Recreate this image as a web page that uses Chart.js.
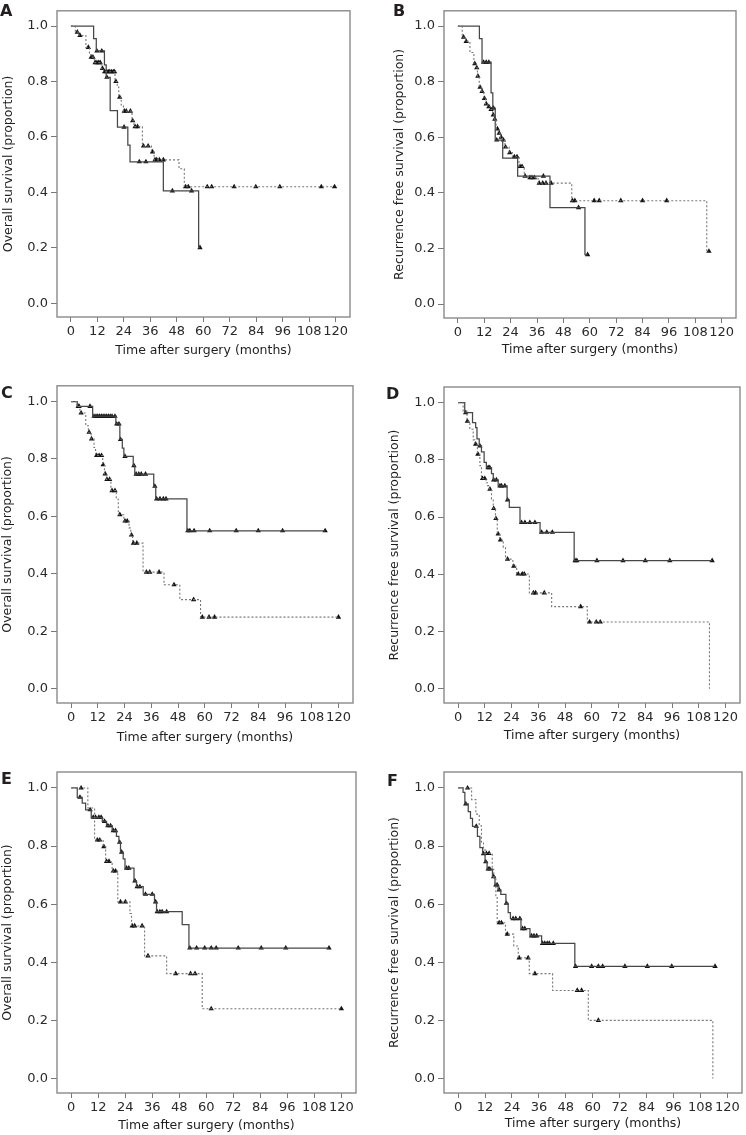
<!DOCTYPE html>
<html lang="en">
<head>
<meta charset="UTF-8" />
<title>Survival after surgery</title>
<script src="https://cdn.jsdelivr.net/npm/chart.js"></script>
<style>
  body { margin:0; background:#fff; }
  #page { position:relative; width:746px; height:1135px; overflow:hidden; }
  .panel { position:absolute; }
  .letter { position:absolute; font:bold 16px "DejaVu Sans", Verdana, sans-serif; color:#231f20; line-height:1; }
</style>
</head>
<body>
<div id="page">
  <div class="panel" style="left:0;top:0;width:373px;height:375px"><canvas id="cA"></canvas></div>
  <div class="panel" style="left:373px;top:0;width:373px;height:375px"><canvas id="cB"></canvas></div>
  <div class="panel" style="left:0;top:375px;width:373px;height:380px"><canvas id="cC"></canvas></div>
  <div class="panel" style="left:373px;top:375px;width:373px;height:380px"><canvas id="cD"></canvas></div>
  <div class="panel" style="left:0;top:755px;width:373px;height:380px"><canvas id="cE"></canvas></div>
  <div class="panel" style="left:373px;top:755px;width:373px;height:380px"><canvas id="cF"></canvas></div>
  <div class="letter" style="left:0;top:3px">A</div>
  <div class="letter" style="left:393px;top:3px">B</div>
  <div class="letter" style="left:1px;top:385px">C</div>
  <div class="letter" style="left:386px;top:386px">D</div>
  <div class="letter" style="left:1px;top:771px">E</div>
  <div class="letter" style="left:387px;top:773px">F</div>
</div>

<script>
  const xTicks = [0, 12, 24, 36, 48, 60, 72, 84, 96, 108, 120];
  const yTicks = [0, 0.2, 0.4, 0.6, 0.8, 1.0];

  // A - overall survival
  const aSolidTime = [10.3, 11.5, 15.2, 16.0, 17.8, 21.1, 25.8, 26.8, 41.9, 57.9];
  const aSolidSurv = [0.955, 0.91, 0.86, 0.815, 0.695, 0.635, 0.57, 0.51, 0.405, 0.20];
  const aSolidCens = [11.8, 14.0, 16.3, 24.1, 31.0, 34.0, 46.0, 54.7, 58.5];
  const aDotTime = [2.0, 3.6, 6.8, 8.4, 9.0, 10.6, 13.8, 14.8, 20.0, 21.0, 21.7, 22.8, 23.8, 27.7, 28.6, 32.4, 36.5, 37.7, 49.0, 51.4];
  const aDotSurv = [0.978, 0.966, 0.923, 0.90, 0.888, 0.868, 0.847, 0.835, 0.80, 0.78, 0.743, 0.715, 0.693, 0.658, 0.637, 0.567, 0.546, 0.517, 0.485, 0.42];
  const aDotCens = [2.9, 4.1, 7.9, 9.2, 10.0, 11.0, 11.8, 12.6, 13.3, 14.3, 15.3, 16.1, 16.9, 17.6, 18.4, 19.2, 19.8, 20.4, 22.1, 24.2, 25.1, 27.0, 28.0, 29.1, 30.2, 32.9, 35.0, 37.0, 38.1, 38.9, 40.1, 41.9, 52.0, 53.2, 61.8, 63.8, 74.0, 83.8, 94.7, 113.5, 119.5];

  // B - recurrence free survival
  const bSolidTime = [9.8, 11.0, 15.1, 15.9, 17.0, 20.4, 27.2, 41.9, 57.8];
  const bSolidSurv = [0.955, 0.87, 0.76, 0.705, 0.59, 0.525, 0.46, 0.347, 0.178];
  const bSolidCens = [11.7, 12.9, 14.1, 16.2, 17.7, 38.9, 54.9, 59.0];
  const bDotTime = [2.0, 3.5, 5.5, 7.3, 8.4, 8.9, 9.7, 10.8, 11.8, 12.6, 13.6, 14.8, 15.8, 16.5, 17.4, 18.4, 19.4, 20.3, 21.4, 23.3, 24.8, 27.8, 30.2, 32.0, 36.5, 51.8, 113.2];
  const bDotSurv = [0.96, 0.945, 0.905, 0.865, 0.85, 0.82, 0.78, 0.765, 0.74, 0.72, 0.71, 0.70, 0.68, 0.665, 0.63, 0.615, 0.60, 0.59, 0.565, 0.545, 0.53, 0.495, 0.46, 0.455, 0.435, 0.372, 0.19];
  const bDotCens = [2.6, 3.8, 7.7, 8.6, 9.1, 10.1, 11.0, 12.1, 12.9, 14.1, 15.1, 16.1, 16.8, 18.0, 18.8, 19.7, 20.7, 21.7, 23.6, 25.7, 26.9, 28.3, 29.2, 30.6, 32.8, 33.7, 34.8, 37.0, 38.6, 40.1, 42.4, 52.1, 53.2, 62.0, 64.3, 74.1, 84.0, 95.0, 114.2];

  // C - overall survival
  const cSolidTime = [2.8, 9.7, 20.1, 21.9, 23.0, 23.7, 27.9, 28.6, 37.1, 38.0, 52.0];
  const cSolidSurv = [0.983, 0.949, 0.922, 0.868, 0.838, 0.809, 0.777, 0.747, 0.705, 0.661, 0.55];
  const cSolidCens = [3.6, 8.5, 10.3, 11.2, 12.0, 12.8, 13.6, 14.4, 15.2, 16.0, 16.8, 17.6, 18.4, 19.7, 20.5, 21.5, 22.2, 24.2, 28.2, 29.2, 30.4, 31.5, 33.4, 37.6, 38.4, 39.9, 41.4, 42.6, 52.4, 53.3, 55.2, 62.2, 74.1, 84.0, 94.9, 114.0];
  const cDotTime = [2.6, 4.0, 6.6, 7.8, 9.0, 10.3, 11.0, 14.2, 15.0, 15.8, 17.9, 20.3, 21.2, 23.7, 26.0, 26.8, 27.6, 32.3, 41.7, 48.8, 58.1];
  const cDotSurv = [0.983, 0.96, 0.916, 0.893, 0.87, 0.84, 0.812, 0.78, 0.748, 0.729, 0.69, 0.66, 0.606, 0.584, 0.56, 0.535, 0.507, 0.406, 0.362, 0.31, 0.249];
  const cDotCens = [3.2, 4.5, 8.1, 9.2, 11.5, 12.6, 13.7, 14.4, 15.3, 16.1, 17.3, 18.4, 19.7, 21.9, 24.2, 25.2, 27.1, 28.0, 29.5, 33.8, 35.3, 39.5, 46.2, 55.0, 58.9, 61.9, 64.4, 120.0];

  // D - recurrence free survival
  const dSolidTime = [3.0, 6.5, 7.9, 8.5, 9.5, 10.5, 11.7, 12.7, 15.0, 15.8, 18.0, 22.0, 23.0, 27.8, 36.8, 52.1];
  const dSolidSurv = [0.965, 0.93, 0.913, 0.874, 0.849, 0.828, 0.791, 0.773, 0.752, 0.73, 0.709, 0.66, 0.634, 0.581, 0.547, 0.448];
  const dSolidCens = [3.4, 9.8, 13.5, 14.2, 16.0, 17.2, 18.8, 19.5, 21.0, 22.2, 28.5, 30.0, 32.2, 34.5, 37.5, 39.8, 42.3, 52.5, 53.3, 62.3, 74.0, 84.0, 95.0, 114.0];
  const dDotTime = [2.3, 4.0, 5.3, 6.8, 7.5, 8.7, 9.8, 10.5, 12.6, 13.2, 14.0, 15.0, 15.8, 16.8, 17.6, 18.7, 20.3, 21.3, 24.6, 26.3, 32.0, 42.0, 58.0, 112.8];
  const dDotSurv = [0.971, 0.935, 0.907, 0.87, 0.855, 0.82, 0.78, 0.735, 0.72, 0.71, 0.698, 0.663, 0.63, 0.595, 0.541, 0.52, 0.494, 0.453, 0.428, 0.401, 0.335, 0.287, 0.233, 0.0];
  const dDotCens = [4.2, 7.9, 8.9, 11.0, 12.0, 14.3, 16.0, 17.0, 18.0, 19.0, 22.2, 25.0, 27.0, 28.8, 29.7, 33.8, 34.8, 38.7, 55.0, 59.0, 62.0, 63.8];

  // E - overall survival
  const eSolidTime = [2.7, 4.9, 6.4, 8.9, 13.8, 15.7, 18.2, 20.1, 21.2, 21.9, 23.1, 23.9, 27.9, 29.0, 32.0, 37.0, 37.9, 49.3, 52.3];
  const eSolidSurv = [0.968, 0.948, 0.925, 0.899, 0.885, 0.87, 0.853, 0.833, 0.813, 0.779, 0.756, 0.724, 0.68, 0.66, 0.634, 0.608, 0.574, 0.53, 0.449];
  const eSolidCens = [3.9, 8.4, 9.8, 10.8, 12.3, 13.3, 14.8, 16.3, 17.5, 18.7, 19.7, 21.5, 22.4, 24.6, 25.6, 28.3, 29.3, 30.5, 33.0, 36.0, 37.5, 38.2, 39.4, 40.4, 42.4, 52.7, 55.7, 59.3, 62.2, 64.4, 74.2, 84.4, 95.3, 114.5];
  const eDotTime = [7.4, 10.4, 14.2, 15.3, 18.2, 20.7, 26.1, 26.8, 32.6, 42.4, 58.2];
  const eDotSurv = [0.931, 0.821, 0.798, 0.747, 0.714, 0.608, 0.568, 0.525, 0.422, 0.361, 0.24];
  const eDotCens = [4.4, 11.6, 12.7, 14.5, 15.7, 16.8, 18.7, 19.7, 21.9, 24.1, 27.1, 28.2, 31.5, 34.1, 46.4, 53.0, 55.0, 62.2, 120.0];

  // F - recurrence free survival
  const fSolidTime = [2.2, 3.0, 4.5, 5.5, 6.4, 8.6, 9.7, 10.9, 12.0, 12.9, 15.3, 16.4, 17.8, 19.0, 21.3, 22.3, 23.3, 28.0, 32.0, 37.2, 52.0];
  const fSolidSurv = [0.985, 0.945, 0.919, 0.895, 0.868, 0.833, 0.795, 0.774, 0.746, 0.721, 0.695, 0.666, 0.649, 0.634, 0.603, 0.571, 0.55, 0.516, 0.491, 0.465, 0.386];
  const fSolidCens = [3.4, 8.1, 11.3, 12.3, 13.4, 14.1, 15.8, 16.8, 17.4, 18.3, 21.5, 24.5, 25.7, 27.5, 28.7, 29.7, 32.7, 33.8, 35.0, 37.6, 38.6, 39.7, 40.6, 42.4, 52.3, 59.5, 62.5, 64.4, 74.3, 84.3, 95.2, 114.5];
  const fDotTime = [6.0, 7.9, 9.4, 10.4, 11.3, 12.0, 15.2, 15.9, 16.8, 17.4, 21.1, 24.8, 26.8, 31.7, 42.1, 58.0, 113.5];
  const fDotSurv = [0.96, 0.91, 0.87, 0.813, 0.79, 0.775, 0.72, 0.69, 0.626, 0.536, 0.497, 0.456, 0.415, 0.361, 0.303, 0.20, 0.0];
  const fDotCens = [4.2, 12.6, 13.8, 18.3, 19.3, 21.9, 27.2, 31.2, 34.2, 53.1, 55.0, 62.5];

  const OS = 'Overall survival (proportion)';
  const RFS = 'Recurrence free survival (proportion)';

  // layout of each panel (canvas pixels)
  const panels = [
    { id: 'cA', yTitle: OS,  top: 4,  right: 23, yw: 57, xh: 58, ytPad: 1.5,  xtPad: 17,
      solid: [aSolidTime, aSolidSurv, aSolidCens], dot: [aDotTime, aDotSurv, aDotCens] },
    { id: 'cB', yTitle: RFS, top: 4,  right: 10, yw: 71, xh: 57, ytPad: 19,   xtPad: 18,
      solid: [bSolidTime, bSolidSurv, bSolidCens], dot: [bDotTime, bDotSurv, bDotCens] },
    { id: 'cC', yTitle: OS,  top: 10, right: 20, yw: 57, xh: 52, ytPad: 0.5,  xtPad: 10,
      solid: [cSolidTime, cSolidSurv, cSolidCens], dot: [cDotTime, cDotSurv, cDotCens] },
    { id: 'cD', yTitle: RFS, top: 12, right: 6,  yw: 71, xh: 52, ytPad: 14.5, xtPad: 12,
      solid: [dSolidTime, dSolidSurv, dSolidCens], dot: [dDotTime, dDotSurv, dDotCens] },
    { id: 'cE', yTitle: OS,  top: 17, right: 17, yw: 57, xh: 42, ytPad: 0.5,  xtPad: 2,
      solid: [eSolidTime, eSolidSurv, eSolidCens], dot: [eDotTime, eDotSurv, eDotCens] },
    { id: 'cF', yTitle: RFS, top: 17, right: 4,  yw: 71, xh: 42, ytPad: 14.5, xtPad: 4,
      solid: [fSolidTime, fSolidSurv, fSolidCens], dot: [fDotTime, fDotSurv, fDotCens] }
  ];

  Chart.defaults.font.family = '"DejaVu Sans", Verdana, sans-serif';
  Chart.defaults.color = '#333';
  Chart.defaults.animation = false;

  // survival value of a curve at time t (step function)
  function survAt(times, surv, t) {
    let s = 1;
    for (let i = 0; i < times.length; i++) {
      if (times[i] <= t) s = surv[i];
    }
    return s;
  }

  function curveSets(curve, dotted) {
    const [times, surv, cens] = curve;
    const pts = [{ x: 0, y: 1 }];
    times.forEach((t, i) => pts.push({ x: t, y: surv[i] }));
    const end = Math.max(times[times.length - 1], cens.length ? cens[cens.length - 1] : 0);
    pts.push({ x: end, y: survAt(times, surv, end) });
    return [
      {
        type: 'line', data: pts, stepped: true, fill: false,
        borderColor: dotted ? '#777' : '#474747', borderWidth: dotted ? 1.1 : 1.25,
        borderDash: dotted ? [2, 2] : [], pointRadius: 0
      },
      {
        type: 'scatter', data: cens.map(t => ({ x: t, y: survAt(times, surv, t) })),
        pointStyle: 'triangle', pointRadius: 3.1, pointBackgroundColor: '#111',
        pointBorderWidth: 0, showLine: false
      }
    ];
  }

  const frame = {
    id: 'frame',
    afterDraw(chart) {
      const { ctx, chartArea: a } = chart;
      ctx.save();
      ctx.strokeStyle = '#8a8a8a';
      ctx.lineWidth = 1.4;
      ctx.strokeRect(a.left, a.top, a.right - a.left, a.bottom - a.top);
      ctx.restore();
    }
  };

  panels.forEach(p => {
    const sets = curveSets(p.dot, true).concat(curveSets(p.solid, false));
    new Chart(document.getElementById(p.id), {
      data: { datasets: [sets[0], sets[2], sets[1], sets[3]] },
      options: {
        responsive: true,
        maintainAspectRatio: false,
        layout: { padding: { left: 0, top: p.top, right: p.right, bottom: 0 } },
        plugins: { legend: { display: false }, tooltip: { enabled: false } },
        scales: {
          x: {
            type: 'linear', min: -6.3, max: 126.5,
            afterBuildTicks: s => { s.ticks = xTicks.map(v => ({ value: v })); },
            afterFit: s => { s.height = p.xh; },
            ticks: { font: { size: 13 }, color: '#2a2a2a', padding: 2, maxRotation: 0, autoSkip: false },
            grid: { drawOnChartArea: false, drawTicks: true, tickLength: 5, color: '#777' },
            border: { display: false },
            title: { display: true, text: 'Time after surgery (months)', font: { size: 12.5 }, color: '#1e1e1e',
                     padding: { top: 0, bottom: p.xtPad } }
          },
          y: {
            type: 'linear', min: -0.05, max: 1.055,
            afterBuildTicks: s => { s.ticks = yTicks.map(v => ({ value: v })); },
            afterFit: s => { s.width = p.yw; },
            ticks: { font: { size: 13 }, color: '#2a2a2a', padding: 3, callback: v => v.toFixed(1) },
            grid: { drawOnChartArea: false, drawTicks: true, tickLength: 6, color: '#777' },
            border: { display: false },
            title: { display: true, text: p.yTitle, font: { size: 12.5 }, color: '#1e1e1e',
                     padding: { top: p.ytPad, bottom: 0 } }
          }
        }
      },
      plugins: [frame]
    });
  });
</script>
</body>
</html>
